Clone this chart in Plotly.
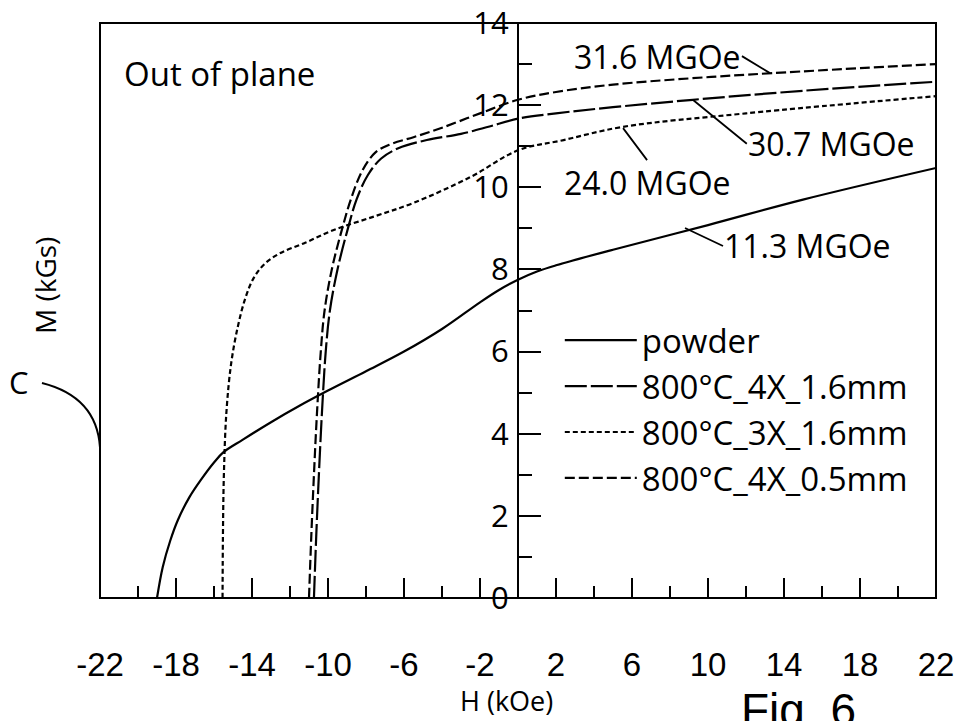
import plotly.graph_objects as go

# ---- data (H in kOe, M in kGs) ----
powder_H = [-19.0, -18.7, -18.3, -17.9, -17.3, -16.7, -16.0, -15.5, -14.5, -13.0, -11.5, -10.0, -8.0, -6.0, -4.0, -2.0, -1.0, 0.0, 1.0, 2.0, 5.0, 10.0, 15.0, 22.0]
powder_M = [0.0, 0.75, 1.4, 1.9, 2.45, 2.87, 3.3, 3.55, 3.85, 4.28, 4.68, 5.05, 5.52, 6.0, 6.55, 7.2, 7.5, 7.75, 7.95, 8.1, 8.48, 9.08, 9.7, 10.47]

s4x16_H = [-10.74, -10.62, -10.48, -10.32, -10.12, -9.9, -9.5, -8.95, -8.5, -7.9, -7.2, -6.3, -4.8, -3.0, -1.5, 0.0, 2.0, 5.0, 9.2, 15.0, 22.0]
s4x16_M = [0.0, 1.5, 3.0, 4.5, 6.0, 7.0, 8.0, 9.0, 9.7, 10.3, 10.7, 10.95, 11.15, 11.3, 11.48, 11.67, 11.8, 11.95, 12.13, 12.35, 12.57]

s3x16_H = [-15.55, -15.53, -15.48, -15.35, -15.1, -14.75, -14.35, -13.9, -13.3, -12.5, -11.2, -9.7, -7.5, -5.5, -2.5, 0.0, 2.4, 5.5, 12.0, 22.0]
s3x16_M = [0.0, 1.5, 3.0, 4.5, 5.7, 6.6, 7.3, 7.8, 8.15, 8.4, 8.65, 8.96, 9.3, 9.62, 10.25, 10.9, 11.15, 11.47, 11.8, 12.22]

s4x05_H = [-11.0, -10.88, -10.74, -10.58, -10.38, -10.18, -9.8, -9.25, -8.8, -8.2, -7.5, -6.7, -5.5, -4.0, -2.0, 0.0, 2.0, 5.0, 9.0, 13.4, 22.0]
s4x05_M = [0.0, 1.5, 3.0, 4.5, 6.0, 7.0, 8.0, 9.0, 9.7, 10.4, 10.85, 11.05, 11.22, 11.45, 11.8, 12.13, 12.32, 12.5, 12.65, 12.78, 13.0]

series_names = ["powder", "800°C_4X_1.6mm", "800°C_3X_1.6mm", "800°C_4X_0.5mm"]
energy_labels = ["11.3 MGOe", "30.7 MGOe", "24.0 MGOe", "31.6 MGOe"]

x_major = [-22, -18, -14, -10, -6, -2, 2, 6, 10, 14, 18, 22]
x_minor = [-20, -16, -12, -8, -4, 0, 4, 8, 12, 16, 20]
y_major = [0, 2, 4, 6, 8, 10, 12, 14]
y_minor = [1, 3, 5, 7, 9, 11, 13]

FONT = "Open Sans"
LW = 2.2

fig = go.Figure()
data = [(powder_H, powder_M, "solid"),
        (s4x16_H, s4x16_M, "22px,4px"),
        (s3x16_H, s3x16_M, "5px,3px"),
        (s4x05_H, s4x05_M, "10px,4px")]
for i, (hx, my, dash) in enumerate(data):
    fig.add_trace(go.Scatter(
        x=hx, y=my, mode="lines", name=series_names[i],
        line=dict(color="black", width=LW, dash=dash, shape="spline", smoothing=1.0),
        cliponaxis=True))

fig.update_layout(
    width=960, height=721,
    margin=dict(l=100, r=24, t=23, b=123, autoexpand=False),
    paper_bgcolor="white", plot_bgcolor="white",
    font=dict(family=FONT, color="black"),
    showlegend=True,
    legend=dict(x=0.550, y=0.497, xanchor="left", yanchor="top",
                font=dict(family=FONT, size=33, color="black"),
                bgcolor="rgba(0,0,0,0)", tracegroupgap=0, itemwidth=72),
    xaxis=dict(range=[-22, 22], showgrid=False, zeroline=False, showline=False,
               automargin=False,
               tickvals=x_major, ticktext=[str(v) for v in x_major],
               ticks="inside", ticklen=20, tickwidth=2, tickcolor="black",
               ticklabelstandoff=44,
               tickfont=dict(family="Liberation Sans Narrow, Arial Narrow, Liberation Sans, sans-serif", size=33, color="black"),
               minor=dict(tickvals=x_minor, ticks="inside", ticklen=12, tickwidth=2, tickcolor="black"),
               fixedrange=True),
    yaxis=dict(range=[0, 14], showgrid=False, zeroline=False, showline=True,
               automargin=False,
               linecolor="black", linewidth=2,
               anchor="free", position=0.5,
               tickvals=y_major, ticktext=[str(v) for v in y_major],
               ticks="inside", ticklen=22, tickwidth=2, tickcolor="black",
               ticklabelstandoff=2,
               tickfont=dict(family=FONT, size=31, color="black"),
               minor=dict(tickvals=y_minor, ticks="inside", ticklen=13, tickwidth=2, tickcolor="black"),
               fixedrange=True),
)

# frame
fig.add_shape(type="rect", xref="paper", yref="paper", x0=0, x1=1, y0=0, y1=1,
              line=dict(color="black", width=2), layer="above")

# "C" leader curve
fig.add_shape(type="path", xref="paper", yref="paper",
              path="M -0.0694,0.374 Q -0.004,0.35 0,0.262",
              line=dict(color="black", width=2), layer="above")

ann_font = dict(family=FONT, size=32, color="black")
# energy labels with leaders (tip on curve in data coords, tail offset in px)
leaders = [
    (energy_labels[3], 13.26, 12.78, -28, -17, "right", "middle"),
    (energy_labels[1], 9.2, 12.13, 54, 44, "left", "middle"),
    (energy_labels[2], 5.53, 11.44, 24, 32, "center", "top"),
    (energy_labels[0], 8.79, 9.01, 38, 18, "left", "middle"),
]
for t, xt, yt, ax, ay, xa, ya in leaders:
    fig.add_annotation(x=xt, y=yt, xref="x", yref="y", text=t, showarrow=True,
                       ax=ax, ay=ay, arrowhead=0, arrowwidth=1.8, arrowcolor="black",
                       xanchor=xa, yanchor=ya, font=ann_font, borderpad=0)

fig.add_annotation(x=0.0263, y=0.913, xref="paper", yref="paper", text="Out of plane",
                   showarrow=False, xanchor="left", yanchor="middle",
                   font=dict(family=FONT, size=33, color="black"))
fig.add_annotation(x=0.486, y=-0.178, xref="paper", yref="paper", text="H (kOe)",
                   showarrow=False, xanchor="center", yanchor="middle",
                   font=dict(family=FONT, size=27, color="black"))
fig.add_annotation(x=-0.066, y=0.544, xref="paper", yref="paper", text="M (kGs)",
                   showarrow=False, textangle=-90, xanchor="center", yanchor="middle",
                   font=dict(family=FONT, size=28, color="black"))
fig.add_annotation(x=-0.0969, y=0.3757, xref="paper", yref="paper", text="C",
                   showarrow=False, xanchor="center", yanchor="middle",
                   font=dict(family=FONT, size=31, color="black"))
fig.add_annotation(x=0.836, y=-0.146, xref="paper", yref="paper", text="Fig. 6",
                   showarrow=False, xanchor="center", yanchor="top",
                   font=dict(family="Liberation Sans, Arial, sans-serif", size=46, color="black"))

fig.write_html("out.html")
